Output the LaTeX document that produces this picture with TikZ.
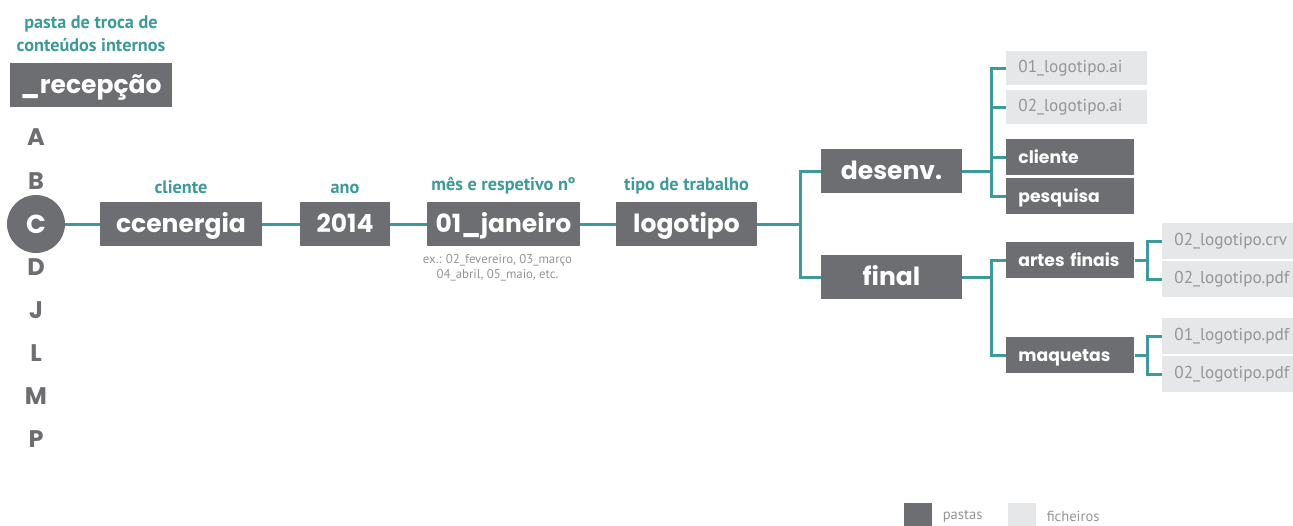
\documentclass[tikz,border=0pt]{standalone}
\usepackage{fontspec}
\usepackage{tikz}
\usetikzlibrary{positioning}
\newfontfamily\caixafont{Poppins}
\newfontfamily\rotulofont{PT Sans}
\definecolor{cinza}{HTML}{6D6E71}
\definecolor{cinzaclaro}{HTML}{E6E7E8}
\definecolor{cinzatexto}{HTML}{939598}
\definecolor{verdeazul}{HTML}{3D9A9B}
\tikzset{pasta/.style = {fill = cinza, text = white, inner sep = 0, minimum height = 22pt,
                         text height = 8.6pt, text depth = 0pt,
                         font = \caixafont\bfseries\fontsize{12.5}{14}\selectfont},
         subpasta/.style = {fill = cinza, text = white, inner xsep = 6pt, inner ysep = 0,
                            minimum height = 18pt, text width = 52pt, align = left, anchor = west,
                            text height = 6.2pt, text depth = 0pt,
                            execute at begin node = {\hyphenpenalty=10000 },
                            font = \caixafont\bfseries\fontsize{8.6}{11}\selectfont},
         ficheiro/.style = {fill = cinzaclaro, text = cinzatexto, inner xsep = 6pt, inner ysep = 0,
                            align = left, anchor = west,
                            font = \rotulofont\fontsize{8.6}{10}\selectfont},
         rotulo/.style = {text = verdeazul, inner sep = 0, font = \rotulofont\bfseries\fontsize{9.1}{11.5}\selectfont},
         letra/.style = {text = cinza, inner sep = 0, font = \caixafont\bfseries\fontsize{12}{14}\selectfont},
         liga/.style = {draw = verdeazul, line width = 1.5pt}}

\begin{document}
\begin{tikzpicture}[x = 0.5pt, y = -0.5pt]
    \useasboundingbox (0, 0) rectangle (1293, 525);

    % pasta de entrada
    \node [rotulo, align = center] (troca) at (91, 34) {pasta de troca de\\conteúdos internos};
    \node [pasta, minimum width = 81pt] (recepcao) at (91, 85) {\_recepção};

    \foreach \l/\y in {A/137, B/181, D/267, J/310, L/353, M/396, P/439}
        \node [letra] (l\l) at (36, \y) {\l};
    \node [circle, fill = cinza, text = white, inner sep = 0, minimum size = 29pt,
           font = \caixafont\bfseries\fontsize{13}{14}\selectfont] (lC) at (36, 224) {C};

    % caminho principal
    \node [pasta, minimum width = 81pt] (ccenergia) at (181, 224) {ccenergia};
    \node [pasta, minimum width = 45pt] (ano) at (345, 224) {2014};
    \node [pasta, minimum width = 76.5pt] (janeiro) at (503.5, 224) {01\_janeiro};
    \node [pasta, minimum width = 70.5pt] (logotipo) at (686.5, 224) {logotipo};

    \node [rotulo, above = 3.5pt of ccenergia] (tcliente) {cliente};
    \node [rotulo, above = 3.5pt of ano] (tano) {ano};
    \node [rotulo, above = 3.5pt of janeiro] (tmes) {mês e respetivo nº};
    \node [rotulo, above = 3.5pt of logotipo] (ttipo) {tipo de trabalho};
    \node [text = cinzatexto, align = center, inner sep = 0, below = 4pt of janeiro, xshift = -3pt,
           font = \rotulofont\fontsize{6.4}{7.3}\selectfont] (exemplo) {ex.: 02\_fevereiro, 03\_março\\04\_abril, 05\_maio, etc.};

    % desenv. e final
    \node [pasta, minimum width = 70.5pt] (desenv) at (891.5, 171) {desenv.};
    \node [pasta, minimum width = 70.5pt] (final) at (891.5, 277) {final};

    \node [ficheiro, text width = 58.5pt, minimum height = 17pt] (fai1) at (1006, 68) {01\_logotipo.ai};
    \node [ficheiro, text width = 58.5pt, minimum height = 17pt] (fai2) at (1006, 107) {02\_logotipo.ai};
    \node [subpasta] (cliente) at (1006, 157) {cliente};
    \node [subpasta] (pesquisa) at (1006, 196) {pesquisa};

    \node [subpasta] (artes) at (1006, 260) {artes finais};
    \node [subpasta] (maquetas) at (1006, 355) {maquetas};

    \node [ficheiro, text width = 60pt, minimum height = 18pt] (fcrv) at (1162, 241) {02\_logotipo.crv};
    \node [ficheiro, text width = 60pt, minimum height = 18pt] (fpdf1) at (1162, 279) {02\_logotipo.pdf};
    \node [ficheiro, text width = 60pt, minimum height = 18pt] (fpdf2) at (1162, 336) {01\_logotipo.pdf};
    \node [ficheiro, text width = 60pt, minimum height = 18pt] (fpdf3) at (1162, 374) {02\_logotipo.pdf};

    % ligacoes
    \draw [liga] (lC) -- (ccenergia);
    \draw [liga] (ccenergia) -- (ano);
    \draw [liga] (ano) -- (janeiro);
    \draw [liga] (janeiro) -- (logotipo);

    \draw [liga] (logotipo.east) -- ++(43, 0) coordinate (n1);
    \draw [liga] (desenv.west) -| (n1) |- (final.west);

    \draw [liga] (desenv.east) -- ++(29, 0) coordinate (n2);
    \draw [liga] (fai1.west) -| (n2) |- (pesquisa.west);
    \draw [liga] (n2) |- (fai2.west);
    \draw [liga] (n2) |- (cliente.west);

    \draw [liga] (final.east) -- ++(29, 0) coordinate (n3);
    \draw [liga] (artes.west) -| (n3) |- (maquetas.west);

    \draw [liga] (artes.east) -- ++(13, 0) coordinate (n4);
    \draw [liga] (fcrv.west) -| (n4) |- (fpdf1.west);
    \draw [liga] (maquetas.east) -- ++(13, 0) coordinate (n5);
    \draw [liga] (fpdf2.west) -| (n5) |- (fpdf3.west);

    % legenda
    \node [fill = cinza, inner sep = 0, minimum width = 14pt, minimum height = 11.5pt] (lpastas) at (918, 514) {};
    \node [right = 5pt of lpastas, inner sep = 0, yshift = -1pt, text = cinzatexto, font = \rotulofont\fontsize{7.3}{9}\selectfont] (tpastas) {pastas};
    \node [fill = cinzaclaro, inner sep = 0, minimum width = 14pt, minimum height = 11.5pt] (lficheiros) at (1022, 514) {};
    \node [right = 5pt of lficheiros, inner sep = 0, yshift = -1pt, text = cinzatexto, font = \rotulofont\fontsize{7.3}{9}\selectfont] (tficheiros) {ficheiros};
\end{tikzpicture}
\end{document}
